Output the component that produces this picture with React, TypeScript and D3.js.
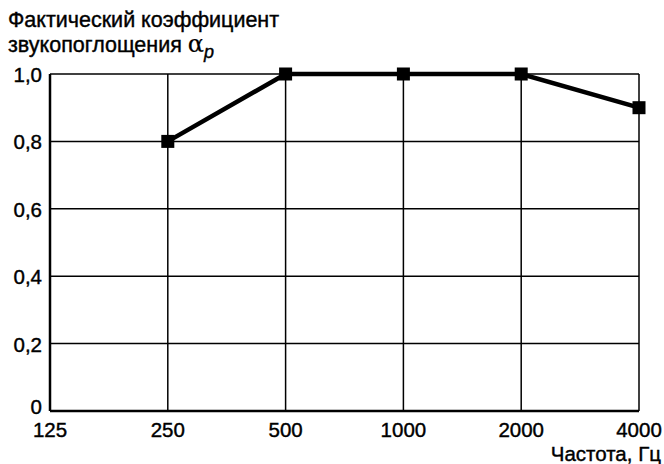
import React from 'react';
import * as d3 from 'd3';

const frequencies = ['125', '250', '500', '1000', '2000', '4000'];
const pointFreqs = ['250', '500', '1000', '2000', '4000'];
const alphaValues = [0.8, 1.0, 1.0, 1.0, 0.9];
const yTicks = [0, 0.2, 0.4, 0.6, 0.8, 1.0];

const width = 664;
const height = 464;
const margin = { top: 74, right: 25, bottom: 53, left: 50 };
const font = '"Liberation Sans", Arial, sans-serif';

const App = () => {
  const x = d3.scalePoint<string>()
    .domain(frequencies)
    .range([margin.left, width - margin.right]);

  const y = d3.scaleLinear()
    .domain([0, 1])
    .range([height - margin.bottom, margin.top]);

  const points = pointFreqs.map((f, i) => ({ f, v: alphaValues[i] }));

  const line = d3.line<{ f: string; v: number }>()
    .x((d) => x(d.f) as number)
    .y((d) => y(d.v));

  const left = margin.left;
  const right = width - margin.right;
  const top = margin.top;
  const bottom = height - margin.bottom;

  // slight stroke to mimic the heavier print text
  const ink = { fill: '#000', stroke: '#000', strokeWidth: 0.4 };

  return (
    <svg
      width={width}
      height={height}
      style={{ position: 'absolute', left: 0, top: 0, background: '#fff' }}
      fontFamily={font}
    >
      {/* title */}
      <text x={8} y={27} fontSize={21.5} {...ink}>Фактический коэффициент</text>
      <text x={8} y={52} fontSize={21.5} {...ink}>
        звукопоглощения <tspan fontSize={24} fontFamily="'DejaVu Serif', serif" strokeWidth={0.2}>α</tspan>
        <tspan fontStyle="italic" fontSize={18} dy={6}>p</tspan>
      </text>

      {/* horizontal grid */}
      {yTicks.map((t) => (
        <line key={'h' + t} x1={left} x2={right} y1={y(t)} y2={y(t)}
          stroke="#000" strokeWidth={t === 0 ? 2.5 : 1.5} />
      ))}
      {/* vertical grid */}
      {frequencies.map((f) => (
        <line key={'v' + f} x1={x(f)} x2={x(f)} y1={top} y2={bottom}
          stroke="#000" strokeWidth={f === '125' ? 2.5 : 1.5} />
      ))}

      {/* y tick labels */}
      {yTicks.map((t) => (
        <text key={'yl' + t} x={left - 8} y={y(t) + (t === 0 ? 3 : 8)} fontSize={20.5} textAnchor="end" {...ink}>
          {t === 0 ? '0' : d3.format('.1f')(t).replace('.', ',')}
        </text>
      ))}

      {/* x tick labels */}
      {frequencies.map((f) => (
        <text key={'xl' + f} x={x(f)} y={bottom + 26} fontSize={20.5} textAnchor="middle" {...ink}>{f}</text>
      ))}
      <text x={661} y={461} fontSize={20.5} textAnchor="end" {...ink}>Частота, Гц</text>

      {/* data */}
      <path d={line(points) || ''} fill="none" stroke="#000" strokeWidth={4.5} />
      {points.map((p) => (
        <rect key={'p' + p.f} x={(x(p.f) as number) - 6.5} y={y(p.v) - 6.5} width={13} height={13} fill="#000" />
      ))}
    </svg>
  );
};

export default App;
